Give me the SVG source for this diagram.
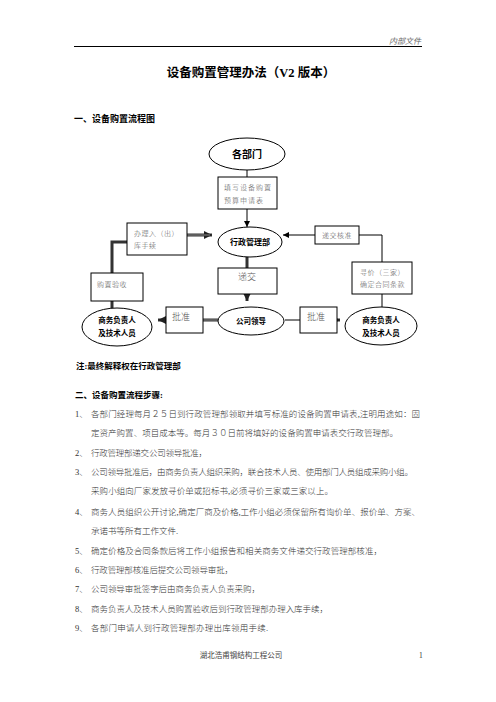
<svg xmlns="http://www.w3.org/2000/svg" width="496" height="702" viewBox="0 0 496 702">
<style>
.t{font-family:"Liberation Serif","Noto Sans CJK SC",serif;fill:#333}
.b{font-family:"Liberation Serif","Noto Sans CJK SC",serif;font-weight:bold;fill:#000}
.body{font-size:8.5px;font-weight:300}
.box{fill:#fff;stroke:#000;stroke-width:1}
.ell{fill:#fff;stroke:#000;stroke-width:1}
.bt{font-family:"Liberation Serif","Noto Sans CJK SC",serif;font-size:7px;fill:#555;font-weight:300}
.et{font-family:"Liberation Serif","Noto Sans CJK SC",serif;font-weight:bold;font-size:7.5px;fill:#000;text-anchor:middle}
.thin{fill:none;stroke:#000;stroke-width:1}
.thick{fill:none;stroke:#333;stroke-width:3}
.thickin{fill:none;stroke:#888;stroke-width:1}
</style>
<defs>
<marker id="a1" markerWidth="8" markerHeight="8" refX="6" refY="3" orient="auto" markerUnits="userSpaceOnUse"><path d="M0,0 L6,3 L0,6 z" fill="#000"/></marker>
<marker id="a2" markerWidth="10" markerHeight="10" refX="8" refY="4" orient="auto" markerUnits="userSpaceOnUse"><path d="M0,0 L8,4 L0,8 z" fill="#222"/></marker>
</defs>
<text class="t" x="421" y="44" font-size="8" font-style="italic" text-anchor="end" style="fill:#666">内部文件</text>
<line x1="74" y1="46.5" x2="422" y2="46.5" stroke="#000" stroke-width="1"/>
<text class="b" x="251" y="77" font-size="12.5" text-anchor="middle">设备购置管理办法（V2 版本）</text>
<text class="b" x="74" y="122" font-size="9">一、设备购置流程图</text>
<g id="connectors">
<line class="thin" x1="247" y1="170" x2="247" y2="177"/>
<line class="thin" x1="247" y1="209" x2="247" y2="227" marker-end="url(#a1)"/>
<line class="thick" x1="187" y1="235" x2="212" y2="235" marker-end="url(#a2)"/>
<line class="thickin" x1="187" y1="235" x2="210" y2="235"/>
<line class="thin" x1="315" y1="235" x2="283" y2="235" marker-end="url(#a1)"/>
<polyline class="thin" points="359,235 382,235 382,262"/>
<line class="thin" x1="382" y1="294" x2="382" y2="307"/>
<line class="thick" x1="247" y1="257" x2="247" y2="268"/>
<line class="thick" x1="247" y1="294" x2="247" y2="301" marker-end="url(#a2)"/>
<line class="thick" x1="218" y1="320" x2="203" y2="320"/>
<line class="thickin" x1="218" y1="320" x2="203" y2="320"/>
<line class="thick" x1="166" y1="320" x2="158" y2="320" marker-end="url(#a2)"/>
<line class="thin" x1="285" y1="320" x2="300" y2="320"/>
<line class="thick" x1="337" y1="320" x2="340" y2="320" marker-end="url(#a2)"/>
<line class="thick" x1="112" y1="308" x2="112" y2="301"/>
<polyline class="thick" points="112,273 112,242 127,242"/>
</g>
<g id="n_gebumen"><ellipse class="ell" cx="247" cy="154" rx="38" ry="16"/><text class="et" x="247" y="158" style="font-size:10px">各部门</text></g>
<g id="n_tianxie"><rect class="box" x="218" y="177" width="59" height="32"/><text class="bt" x="224" y="190" letter-spacing="1">填写设备购置</text><text class="bt" x="224" y="203" letter-spacing="1">预算申请表</text></g>
<g id="n_xingzheng"><ellipse class="ell" cx="250" cy="242" rx="32" ry="15"/><text class="et" x="250" y="245" style="font-size:8px">行政管理部</text></g>
<g id="n_banli"><rect class="box" x="127" y="223" width="60" height="32"/><text class="bt" x="134" y="236" letter-spacing="0.5">办理入（出）</text><text class="bt" x="134" y="248" letter-spacing="0.5">库手续</text></g>
<g id="n_dijiaohezhun"><rect class="box" x="315" y="226" width="44" height="18"/><text class="bt" x="337" y="238" text-anchor="middle" letter-spacing="0.5">递交核准</text></g>
<g id="n_xunjia"><rect class="box" x="352" y="262" width="60" height="32"/><text class="bt" x="360" y="275" letter-spacing="0.5">寻价（三家）</text><text class="bt" x="360" y="287" letter-spacing="0.5">确定合同条款</text></g>
<g id="n_gouzhi"><rect class="box" x="91" y="273" width="52" height="28"/><text class="bt" x="97" y="287" letter-spacing="0.5">购置验收</text></g>
<g id="n_dijiao"><rect class="box" x="218" y="268" width="59" height="26"/><text class="bt" x="247" y="280" text-anchor="middle" style="font-size:9px">递交</text></g>
<g id="n_gongsi"><ellipse class="ell" cx="251" cy="321" rx="33" ry="14"/><text class="et" x="251" y="324">公司领导</text></g>
<g id="n_pizhun1"><rect class="box" x="166" y="307" width="37" height="26"/><text class="bt" x="172" y="320" style="font-size:9px">批准</text></g>
<g id="n_pizhun2"><rect class="box" x="300" y="307" width="37" height="26"/><text class="bt" x="307" y="320" style="font-size:9px">批准</text></g>
<g id="n_shangwu1"><ellipse class="ell" cx="117" cy="327" rx="35" ry="19"/><text class="et" x="117" y="323">商务负责人</text><text class="et" x="117" y="336">及技术人员</text></g>
<g id="n_shangwu2"><ellipse class="ell" cx="381" cy="326" rx="36" ry="19"/><text class="et" x="381" y="323">商务负责人</text><text class="et" x="381" y="336">及技术人员</text></g>
<text class="b" x="76" y="369" font-size="8.5">注:最终解释权在行政管理部</text>
<text class="b" x="75" y="398" font-size="8.5">二、设备购置流程步骤:</text>
<g class="t body">
<text x="75" y="417">1、</text><text x="91" y="417" textLength="329" lengthAdjust="spacing">各部门经理每月２５日到行政管理部领取并填写标准的设备购置申请表,注明用途如：固</text>
<text x="91" y="436" textLength="307" lengthAdjust="spacing">定资产购置、项目成本等。每月３０日前将填好的设备购置申请表交行政管理部。</text>
<text x="75" y="456">2、</text><text x="91" y="456" textLength="116" lengthAdjust="spacing">行政管理部递交公司领导批准，</text>
<text x="75" y="475">3、</text><text x="91" y="475" textLength="322" lengthAdjust="spacing">公司领导批准后，由商务负责人组织采购，联合技术人员、使用部门人员组成采购小组。</text>
<text x="91" y="494" textLength="242" lengthAdjust="spacing">采购小组向厂家发放寻价单或招标书,必须寻价三家或三家以上。</text>
<text x="75" y="515">4、</text><text x="91" y="515" textLength="329" lengthAdjust="spacing">商务人员组织公开讨论,确定厂商及价格,工作小组必须保留所有询价单、报价单、方案、</text>
<text x="91" y="534" textLength="87" lengthAdjust="spacing">承诺书等所有工作文件.</text>
<text x="75" y="554">5、</text><text x="91" y="554" textLength="291" lengthAdjust="spacing">确定价格及合同条款后将工作小组报告和相关商务文件递交行政管理部核准，</text>
<text x="75" y="573">6、</text><text x="91" y="573" textLength="142" lengthAdjust="spacing">行政管理部核准后提交公司领导审批，</text>
<text x="75" y="592">7、</text><text x="91" y="592" textLength="169" lengthAdjust="spacing">公司领导审批签字后由商务负责人负责采购，</text>
<text x="75" y="612">8、</text><text x="91" y="612" textLength="237" lengthAdjust="spacing">商务负责人及技术人员购置验收后到行政管理部办理入库手续，</text>
<text x="75" y="631">9、</text><text x="91" y="631" textLength="177" lengthAdjust="spacing">各部门申请人到行政管理部办理出库领用手续.</text>
</g>
<text class="t" x="241" y="658" font-size="7.5" text-anchor="middle" style="fill:#444">湖北浩甫钢结构工程公司</text>
<text class="t" x="419" y="658" font-size="7.5">1</text>
</svg>
